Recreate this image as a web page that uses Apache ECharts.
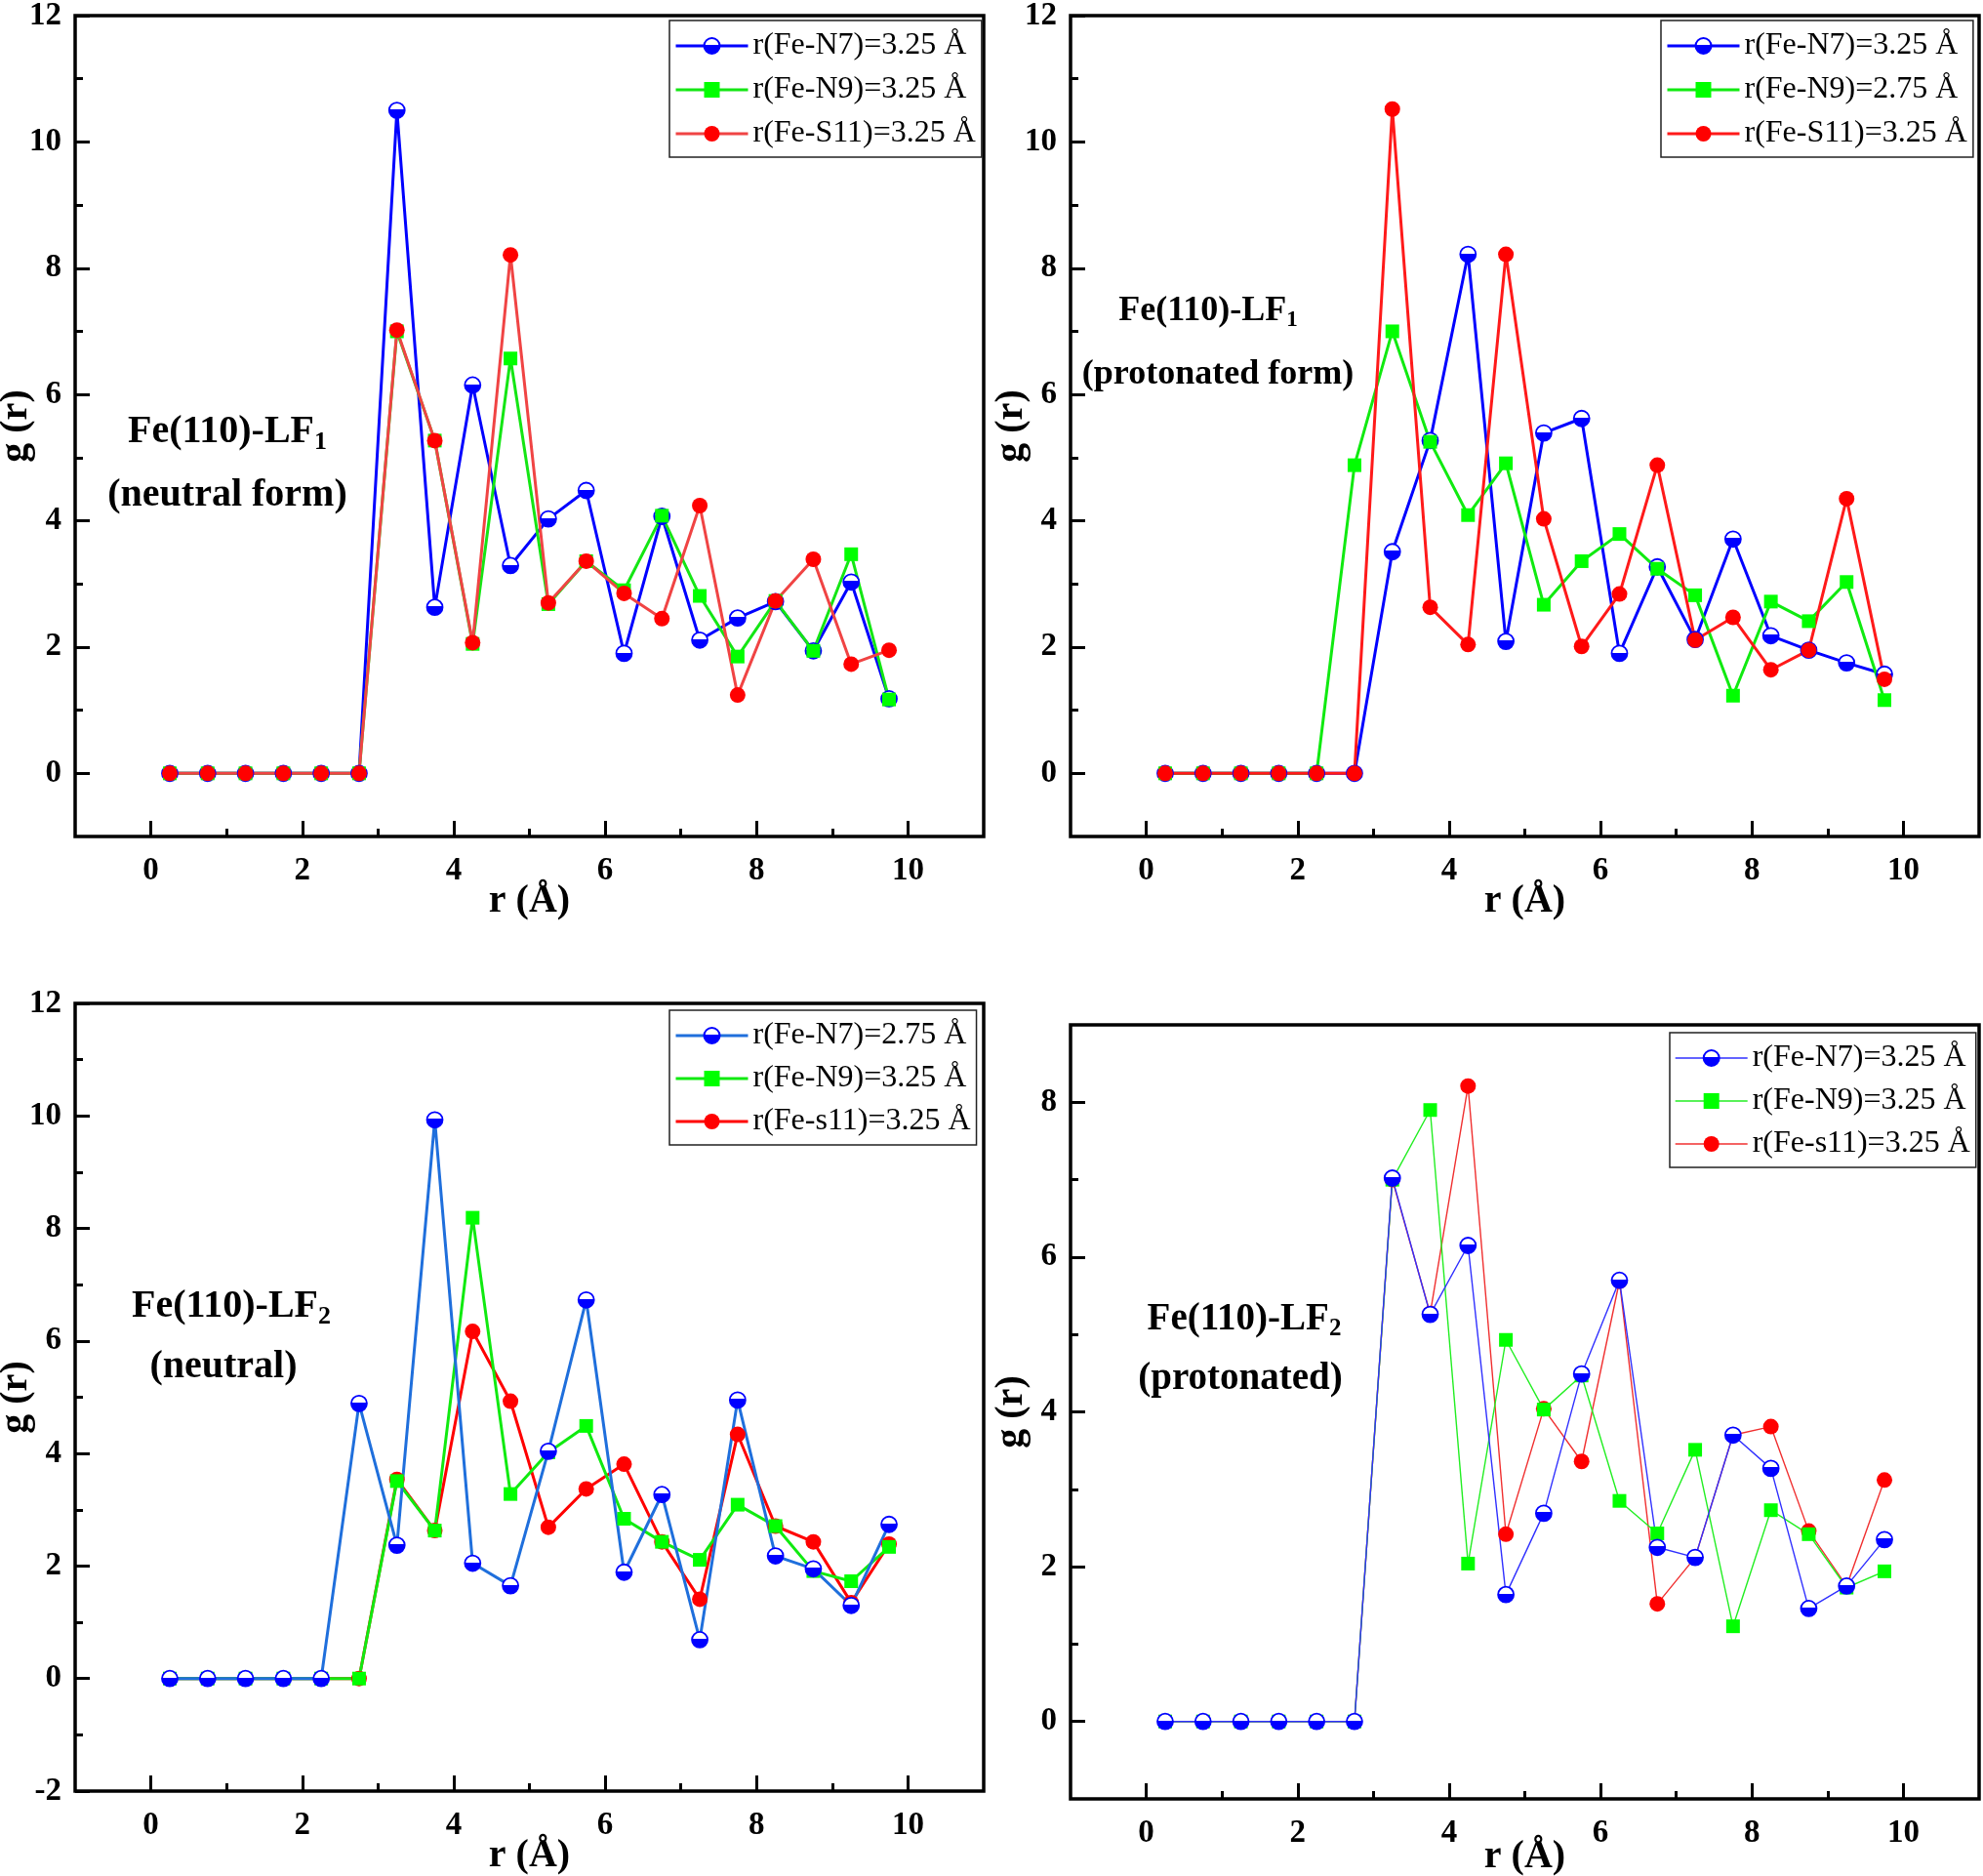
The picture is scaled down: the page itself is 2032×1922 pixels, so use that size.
<!DOCTYPE html>
<html>
<head>
<meta charset="utf-8">
<script src="https://cdn.jsdelivr.net/npm/echarts@6/dist/echarts.min.js"></script>
<style>
html, body { margin: 0; padding: 0; background: #fff; }
#main { width: 2032px; height: 1922px; }
</style>
</head>
<body>
<div id="main"></div>
<script>
// distance axis, same for every panel
const r = [0.25, 0.75, 1.25, 1.75, 2.25, 2.75, 3.25, 3.75, 4.25, 4.75, 5.25, 5.75, 6.25, 6.75, 7.25, 7.75, 8.25, 8.75, 9.25, 9.75]

// panel a - Fe(110)-LF1 neutral form
const aN7 = [0, 0, 0, 0, 0, 0, 10.5, 2.63, 6.15, 3.29, 4.03, 4.48, 1.9, 4.07, 2.11, 2.46, 2.72, 1.94, 3.03, 1.18]
const aN9 = [0, 0, 0, 0, 0, 0, 7.0, 5.27, 2.05, 6.57, 2.68, 3.36, 2.9, 4.08, 2.81, 1.85, 2.73, 1.94, 3.47, 1.17]
const aS11 = [0, 0, 0, 0, 0, 0, 7.02, 5.27, 2.07, 8.21, 2.7, 3.36, 2.85, 2.45, 4.24, 1.24, 2.73, 3.39, 1.73, 1.95]
const aNames = ['r(Fe-N7)=3.25 Å', 'r(Fe-N9)=3.25 Å', 'r(Fe-S11)=3.25 Å']

// panel b - Fe(110)-LF1 protonated form
const bN7 = [0, 0, 0, 0, 0, 0, 3.51, 5.27, 8.22, 2.09, 5.39, 5.62, 1.9, 3.27, 2.12, 3.71, 2.18, 1.95, 1.75, 1.57]
const bN9 = [0, 0, 0, 0, 0, 4.88, 7.0, 5.25, 4.09, 4.91, 2.67, 3.36, 3.79, 3.24, 2.82, 1.23, 2.72, 2.41, 3.03, 1.16]
const bS11 = [0, 0, 0, 0, 0, 0, 10.52, 2.63, 2.04, 8.22, 4.03, 2.01, 2.84, 4.88, 2.11, 2.47, 1.64, 1.95, 4.35, 1.49]
const bNames = ['r(Fe-N7)=3.25 Å', 'r(Fe-N9)=2.75 Å', 'r(Fe-S11)=3.25 Å']

// panel c - Fe(110)-LF2 neutral
const cN7 = [0, 0, 0, 0, 0, 4.89, 2.37, 9.93, 2.05, 1.65, 4.04, 6.73, 1.89, 3.27, 0.69, 4.95, 2.18, 1.95, 1.3, 2.74]
const cN9 = [0, 0, 0, 0, 0, 0, 3.51, 2.63, 8.19, 3.28, 4.02, 4.49, 2.84, 2.43, 2.11, 3.09, 2.71, 1.91, 1.73, 2.34]
const cS11 = [0, 0, 0, 0, 0, 0, 3.54, 2.63, 6.17, 4.93, 2.69, 3.37, 3.81, 2.43, 1.41, 4.34, 2.71, 2.43, 1.35, 2.39]
const cNames = ['r(Fe-N7)=2.75 Å', 'r(Fe-N9)=3.25 Å', 'r(Fe-s11)=3.25 Å']

// panel d - Fe(110)-LF2 protonated
const dN7 = [0, 0, 0, 0, 0, 0, 7.02, 5.26, 6.15, 1.64, 2.69, 4.49, 5.7, 2.25, 2.12, 3.7, 3.27, 1.46, 1.75, 2.35]
const dN9 = [0, 0, 0, 0, 0, 0, 7.0, 7.9, 2.04, 4.93, 4.03, 4.47, 2.85, 2.43, 3.51, 1.23, 2.73, 2.42, 1.73, 1.94]
const dS11 = [0, 0, 0, 0, 0, 0, 7.0, 5.27, 8.21, 2.42, 4.04, 3.36, 5.69, 1.52, 2.12, 3.7, 3.81, 2.46, 1.75, 3.12]
const dNames = ['r(Fe-N7)=3.25 Å', 'r(Fe-N9)=3.25 Å', 'r(Fe-s11)=3.25 Å']

// tick labels
const xTicks = [0, 2, 4, 6, 8, 10]
const xMinor = [1, 3, 5, 7, 9]
const yTicks12 = [0, 2, 4, 6, 8, 10, 12]
const yMinor12 = [1, 3, 5, 7, 9, 11]
const yTicksC = [-2, 0, 2, 4, 6, 8, 10, 12]
const yMinorC = [-1, 1, 3, 5, 7, 9, 11]
const yTicksD = [0, 2, 4, 6, 8]
const yMinorD = [1, 3, 5, 7]

const FONT = '"Liberation Serif", "Times New Roman", serif'

const halfFill = c => ({
    type: 'linear', x: 0, y: 0, x2: 0, y2: 1,
    colorStops: [
        { offset: 0, color: '#fff' },
        { offset: 0.45, color: '#fff' },
        { offset: 0.45, color: c },
        { offset: 1, color: c }
    ]
})

const panels = [
    {
        grid: { left: 77, top: 16, width: 931, height: 841 },
        yMin: -1, yMax: 12, yTicks: yTicks12, yMinor: yMinor12,
        values: [aN7, aN9, aS11], names: aNames, order: [0, 1, 2],
        lineW: 3, lines: ['#0000ff', '#14e614', '#f04444'],
        legend: { left: 686, top: 21, gap: 13 },
        title: { x: 233, y: 443, sub: '1', size: 40 }, sub2: { x: 233, y: 508, text: '(neutral form)' },
        nameGapX: 47
    },
    {
        grid: { left: 1097, top: 16, width: 931, height: 841 },
        yMin: -1, yMax: 12, yTicks: yTicks12, yMinor: yMinor12,
        values: [bN7, bN9, bS11], names: bNames, order: [0, 1, 2],
        lineW: 3, lines: ['#0000ff', '#10ea10', '#ff1a1a'],
        legend: { left: 1702, top: 21, gap: 13 },
        title: { x: 1238, y: 319, sub: '1', size: 36 }, sub2: { x: 1248, y: 384, text: '(protonated form)' },
        nameGapX: 47
    },
    {
        grid: { left: 77, top: 1028, width: 931, height: 807 },
        yMin: -2, yMax: 12, yTicks: yTicksC, yMinor: yMinorC,
        values: [cN7, cN9, cS11], names: cNames, order: [2, 1, 0],
        lineW: 3, lines: ['#1f6fdc', '#10ea10', '#ff0000'],
        legend: { left: 686, top: 1035, gap: 12 },
        title: { x: 237, y: 1339, sub: '2', size: 40 }, sub2: { x: 229, y: 1401, text: '(neutral)' },
        nameGapX: 47
    },
    {
        grid: { left: 1097, top: 1050, width: 931, height: 793 },
        yMin: -1, yMax: 9, yTicks: yTicksD, yMinor: yMinorD,
        values: [dN7, dN9, dS11], names: dNames, order: [2, 1, 0],
        lineW: 1.4, lines: ['#3030ff', '#22ee22', '#f03030'],
        legend: { left: 1711, top: 1058, gap: 12 },
        title: { x: 1275, y: 1352, sub: '2', size: 39 }, sub2: { x: 1271, y: 1413, text: '(protonated)' },
        nameGapX: 40
    }
]

const tickStyle = { color: '#000', width: 3 }
const labelStyle = { color: '#000', fontFamily: FONT, fontWeight: 'bold', fontSize: 33 }
const nameStyle = { color: '#000', fontFamily: FONT, fontWeight: 'bold', fontSize: 40 }
const noLine = { show: false, onZero: false }

const grid = [], xAxis = [], yAxis = [], series = [], legend = [], graphic = []

panels.forEach((p, i) => {
    grid.push({
        ...p.grid, show: true, borderColor: '#000', borderWidth: 3.5,
        backgroundColor: 'transparent', outerBoundsMode: 'none', containLabel: false
    })

    // main x axis + a label-less one only for the short ticks
    xAxis.push({
        type: 'value', gridIndex: i, min: -1, max: 11, position: 'bottom',
        name: 'r (Å)', nameLocation: 'middle', nameGap: p.nameGapX, nameMoveOverlap: false, nameTextStyle: nameStyle,
        axisLine: noLine,
        axisTick: { inside: true, length: 16, lineStyle: tickStyle, customValues: xTicks },
        axisLabel: { ...labelStyle, margin: 19, customValues: xTicks },
        splitLine: { show: false }
    })
    xAxis.push({
        type: 'value', gridIndex: i, min: -1, max: 11, position: 'bottom',
        axisLine: noLine,
        axisTick: { inside: true, length: 8, lineStyle: tickStyle, customValues: xMinor },
        axisLabel: { show: false },
        splitLine: { show: false }
    })
    yAxis.push({
        type: 'value', gridIndex: i, min: p.yMin, max: p.yMax, position: 'left',
        name: 'g (r)', nameLocation: 'middle', nameGap: 40, nameMoveOverlap: false, nameTextStyle: nameStyle,
        axisLine: noLine,
        axisTick: { inside: true, length: 15, lineStyle: tickStyle, customValues: p.yTicks },
        axisLabel: { ...labelStyle, margin: 14, customValues: p.yTicks },
        splitLine: { show: false }
    })
    yAxis.push({
        type: 'value', gridIndex: i, min: p.yMin, max: p.yMax, position: 'left',
        axisLine: noLine,
        axisTick: { inside: true, length: 8, lineStyle: tickStyle, customValues: p.yMinor },
        axisLabel: { show: false },
        splitLine: { show: false }
    })

    // zero-width spaces keep the legend names of different panels apart
    const tag = '\u200b'.repeat(i)
    const names = p.names.map(n => n + tag)
    const markers = [
        { symbol: 'circle', symbolSize: 16, itemStyle: { color: halfFill('#0000ff'), borderColor: '#0000ff', borderWidth: 1.8 } },
        { symbol: 'rect', symbolSize: 14, itemStyle: { color: '#00ff00' } },
        { symbol: 'circle', symbolSize: 16, itemStyle: { color: '#ff0000' } }
    ]
    p.order.forEach(k => {
        series.push({
            type: 'line',
            name: names[k],
            xAxisIndex: 2 * i,
            yAxisIndex: 2 * i,
            data: r.map((x, j) => [x, p.values[k][j]]),
            ...markers[k],
            showSymbol: true,
            lineStyle: { color: p.lines[k], width: p.lineW },
            emphasis: { disabled: true }
        })
    })

    legend.push({
        orient: 'vertical', left: p.legend.left, top: p.legend.top,
        data: names, selectedMode: false,
        borderColor: '#222', borderWidth: 1.5, padding: [10, 6, 8, 5],
        itemGap: p.legend.gap, itemWidth: 74, itemHeight: 20,
        lineStyle: { width: p.lineW },
        textStyle: { color: '#000', fontFamily: FONT, fontSize: 32 }
    })

    const s = p.title.size
    graphic.push({
        type: 'text', x: p.title.x, y: p.title.y,
        style: {
            text: '{m|Fe(110)-LF}{s|' + p.title.sub + '}',
            align: 'center', verticalAlign: 'middle',
            rich: {
                m: { fontFamily: FONT, fontWeight: 'bold', fontSize: s, lineHeight: s + 6, fill: '#000' },
                s: { fontFamily: FONT, fontWeight: 'bold', fontSize: Math.round(s * 0.65), lineHeight: Math.round(s * 0.65), verticalAlign: 'bottom', fill: '#000' }
            }
        }
    })
    graphic.push({
        type: 'text', x: p.sub2.x, y: p.sub2.y,
        style: {
            text: p.sub2.text, align: 'center', verticalAlign: 'middle',
            fontFamily: FONT, fontWeight: 'bold', fontSize: s, fill: '#000'
        }
    })
})

const myChart = echarts.init(document.querySelector('#main'))
myChart.setOption({
    animation: false,
    backgroundColor: '#fff',
    grid, xAxis, yAxis, series, legend, graphic
})
</script>
</body>
</html>
